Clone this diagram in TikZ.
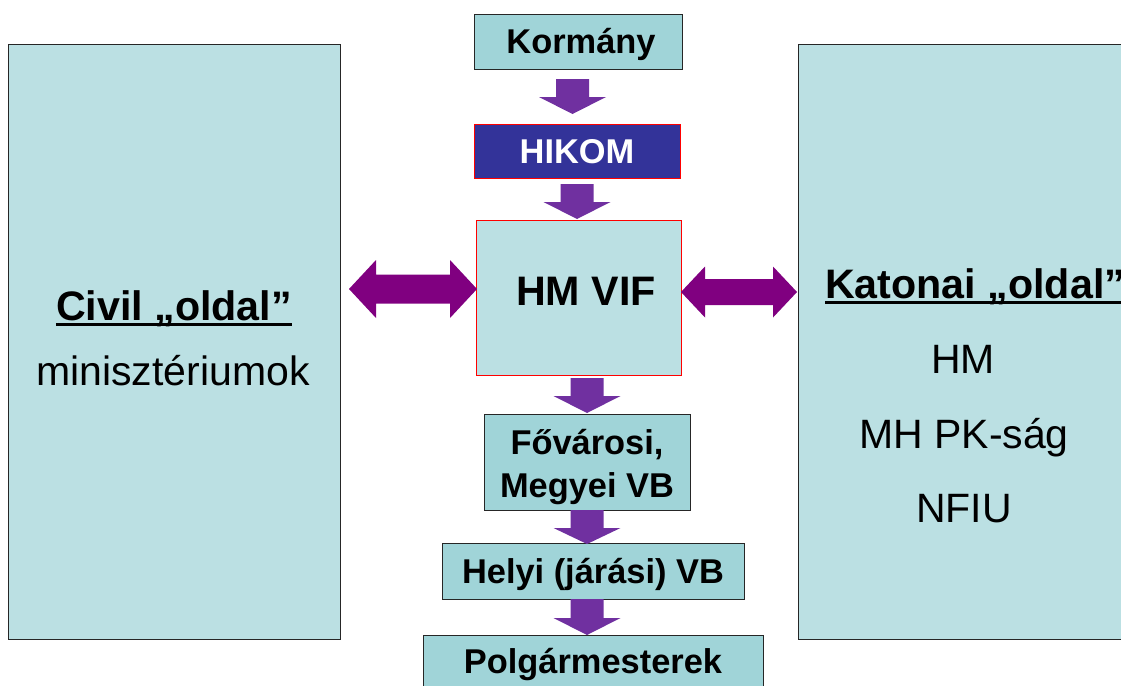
\documentclass[tikz,border=0pt]{standalone}
\usepackage{fontspec}
\setmainfont{Liberation Sans}
\definecolor{bigfill}{HTML}{BBE0E3}
\definecolor{smallfill}{HTML}{A0D4D8}
\definecolor{hikomfill}{HTML}{333399}
\definecolor{dnpurple}{HTML}{7030A0}
\definecolor{dblpurple}{HTML}{800080}
\definecolor{edge}{HTML}{262626}
\tikzset{
  bigbox/.style={draw=edge, line width=1pt, fill=bigfill, rectangle, inner sep=0pt, anchor=north west},
  smallbox/.style={draw=edge, line width=1.2pt, fill=smallfill, rectangle, inner sep=0pt, anchor=north west},
  redbox/.style={draw=red, line width=1pt, rectangle, inner sep=0pt, anchor=north west},
  lbl/.style={inner sep=0pt, anchor=base},
  boldtxt/.style={font=\fontsize{34.4}{40}\selectfont\bfseries},
  bigbold/.style={font=\fontsize{41.2}{48}\selectfont\bfseries},
  bigreg/.style={font=\fontsize{41}{48}\selectfont},
  dnarr/.style={fill=dnpurple},
  dblarr/.style={fill=dblpurple},
}
\newcommand\dnarrow[4]{%
  \fill[dnarr] ({#1-16.5},#2) -- ({#1+16.5},#2) -- ({#1+16.5},#3) -- ({#1+33.5},#3)
    -- (#1,#4) -- ({#1-33.5},#3) -- ({#1-16.5},#3) -- cycle;}
% x1 x2 y headlen shafthalf headhalf
\newcommand\dblarrow[6]{%
  \fill[dblarr] (#1,#3) -- ({#1+#4},{#3-#6}) -- ({#1+#4},{#3-#5}) -- ({#2-#4},{#3-#5})
    -- ({#2-#4},{#3-#6}) -- (#2,#3) -- ({#2-#4},{#3+#6}) -- ({#2-#4},{#3+#5})
    -- ({#1+#4},{#3+#5}) -- ({#1+#4},{#3+#6}) -- cycle;}
\begin{document}
\begin{tikzpicture}[x=1pt,y=-1pt]
\useasboundingbox (0,0) rectangle (1121,685);
\clip (0,0) rectangle (1121,685);
\fill[white] (0,0) rectangle (1121,685);
% big side boxes
\node[bigbox, minimum width=332pt, minimum height=595pt] (civil) at (8,44) {};
\node[bigbox, minimum width=360pt, minimum height=595pt] (katonai) at (798,44) {};
% centre column boxes
\node[smallbox, minimum width=208pt, minimum height=55pt] (kor) at (474,14) {};
\node[redbox, fill=hikomfill, minimum width=206pt, minimum height=54pt] (hikom) at (474,124) {};
\node[redbox, fill=bigfill, minimum width=205pt, minimum height=155pt] (vif) at (476,220) {};
\node[smallbox, minimum width=206pt, minimum height=96pt] (fov) at (484,414) {};
\node[smallbox, minimum width=302pt, minimum height=56pt] (helyi) at (442,543) {};
\node[smallbox, minimum width=340pt, minimum height=70pt] (polg) at (423,635) {};
% down arrows
\dnarrow{572.5}{79}{97}{114}
\dnarrow{577}{184}{202}{219}
\dnarrow{587}{378}{396}{413}
\dnarrow{587}{510}{528}{544}
\dnarrow{587}{599}{618}{635}
% double arrows
\dblarrow{349}{477}{289}{27}{14.5}{29}
\dblarrow{681}{797}{292}{24}{13}{25.5}
% texts
\node[lbl, boldtxt] (tkor) at (581,53.3) {Kormány};
\node[lbl, boldtxt, text=white] (thik) at (577,163.3) {HIKOM};
\node[lbl, bigbold] (tvif) at (586,305) {HM VIF};
\node[lbl, boldtxt] (tfov1) at (587,454) {Fővárosi,};
\node[lbl, boldtxt] (tfov2) at (587,497) {Megyei VB};
\node[lbl, boldtxt] (thely) at (593,583) {Helyi (járási) VB};
\node[lbl, boldtxt] (tpolg) at (593,673) {Polgármesterek};
\node[lbl, bigbold] (tciv) at (174,320) {Civil „oldal”};
\draw[line width=2.6pt] ([yshift=-4.5pt]tciv.base west) -- ([yshift=-4.5pt]tciv.base east);
\node[lbl, bigreg] (tmin) at (173,385) {minisztériumok};
\node[lbl, anchor=base west, bigbold] (tkat) at (825,298) {Katonai „oldal”};
\draw[line width=2.6pt] ([yshift=-4.5pt]tkat.base west) -- ([yshift=-4.5pt]tkat.base east);
\node[lbl, bigreg] (thm) at (963,373) {HM};
\node[lbl, bigreg] (tmh) at (964,448) {MH PK-ság};
\node[lbl, bigreg] (tnf) at (964,522) {NFIU};
\end{tikzpicture}
\end{document}
